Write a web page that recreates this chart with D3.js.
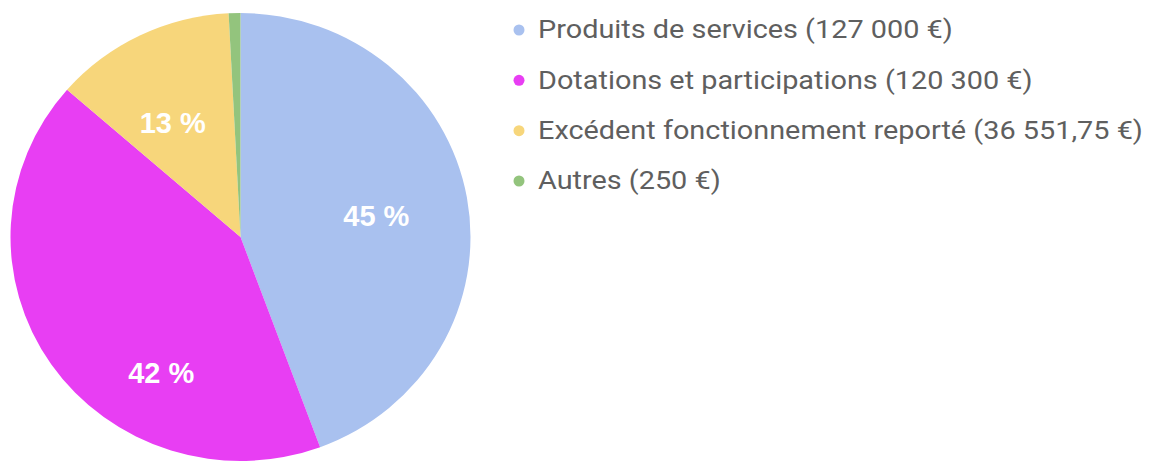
<!DOCTYPE html>
<html>
<head>
<meta charset="utf-8">
<script src="https://cdn.jsdelivr.net/npm/d3@7"></script>
<style>
  html, body { margin: 0; padding: 0; background: #fff; }
  svg { display: block; }
</style>
</head>
<body>
<div id="chart"></div>
<script>
// recettes de fonctionnement
const categories = ["Produits de services", "Dotations et participations", "Excédent fonctionnement reporté", "Autres"];
const amounts = [127000, 120300, 36551.75, 250];
const amountLabels = ["127 000 €", "120 300 €", "36 551,75 €", "250 €"];
const colors = ["#a9c1ef", "#e83ef3", "#f7d67b", "#93c47d"];

const W = 1149, H = 461;
const cx = 240.5, cy = 237, R = 230, squash = 224 / 230;
const minShare = 0.0083; // tiny slices stay visible

const svg = d3.select("#chart").append("svg")
    .attr("width", W)
    .attr("height", H);

const total = d3.sum(amounts);
const pie = d3.pie()
    .sort(null)
    .value(d => Math.max(d, total * minShare));
const arcs = pie(amounts);

const arc = d3.arc().innerRadius(0).outerRadius(R);

const pieG = svg.append("g")
    .attr("transform", `translate(${cx},${cy}) scale(1,${squash})`);

pieG.selectAll("path")
    .data(arcs)
    .join("path")
    .attr("d", arc)
    .attr("fill", (d, i) => colors[i]);

// percentage labels (only for slices large enough)
const labelNudge = [{ a: 0, r: 0.6 }, { a: -0.44, r: 0.685 }, { a: -0.06, r: 0.6 }, { a: 0, r: 0.6 }];
const fmtPct = v => Math.round(v / total * 100) + " %";
const labelPos = d => {
    const n = labelNudge[d.index];
    const a = (d.startAngle + d.endAngle) / 2 + n.a;
    return [cx + Math.sin(a) * R * n.r, cy - Math.cos(a) * R * n.r * squash];
};

svg.append("g")
    .selectAll("text")
    .data(arcs.filter(d => d.value / total > 0.05))
    .join("text")
    .attr("x", d => labelPos(d)[0])
    .attr("y", d => labelPos(d)[1] + 3)
    .attr("text-anchor", "middle")
    .attr("dominant-baseline", "central")
    .style("font-family", "'Liberation Sans', Arial, sans-serif")
    .style("font-weight", "bold")
    .style("font-size", "29px")
    .attr("fill", "#fff")
    .text(d => fmtPct(amounts[d.index]));

// legend
const legend = svg.append("g").attr("transform", "translate(519,0)");
const rowY = d3.scalePoint().domain(d3.range(categories.length)).range([30, 181]);

const rows = legend.selectAll("g")
    .data(categories)
    .join("g")
    .attr("transform", (d, i) => `translate(0,${rowY(i)})`);

rows.append("circle")
    .attr("r", 5.5)
    .attr("fill", (d, i) => colors[i]);

const labels = rows.append("text")
    .attr("dominant-baseline", "central")
    .style("font-family", "Roboto, sans-serif")
    .style("font-size", "25.5px")
    .attr("fill", "#5f5f5f")
    .text((d, i) => `${d} (${amountLabels[i]})`);

// the legend text in the original is drawn a bit wider than the font
const widest = labels.nodes()[2].getComputedTextLength();
const sx = (1143 - 538) / widest;
labels.attr("transform", `translate(19,0) scale(${sx},1)`);
</script>
</body>
</html>
